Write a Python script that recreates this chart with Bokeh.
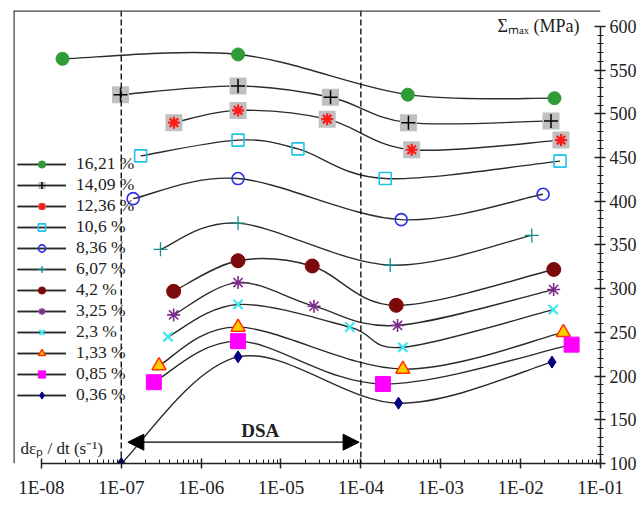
import numpy as np
from bokeh.plotting import figure
from bokeh.models import (Span, Label, Arrow, NormalHead, Legend, LegendItem,
                          FixedTicker)
from bokeh.embed import file_html
from bokeh.resources import INLINE

# ---------------- data ----------------
series_labels = ["16,21 %", "14,09 %", "12,36 %", "10,6 %", "8,36 %", "6,07 %",
                 "4,2 %", "3,25 %", "2,3 %", "1,33 %", "0,85 %", "0,36 %"]

x_1621 = [1.84e-8, 2.9e-6, 3.87e-4, 2.65e-2]
y_1621 = [563, 568, 522, 518]
x_1409 = [9.8e-8, 2.9e-6, 4.17e-5, 3.94e-4, 2.4e-2]
y_1409 = [522, 532, 519, 490, 492]
x_1236 = [4.57e-7, 2.9e-6, 3.79e-5, 4.33e-4, 3.2e-2]
y_1236 = [490, 504, 494, 459, 470]
x_1060 = [1.75e-7, 2.9e-6, 1.63e-5, 2.02e-4, 3.11e-2]
y_1060 = [452, 470, 460, 426, 446]
x_836 = [1.41e-7, 2.9e-6, 3.2e-4, 1.91e-2]
y_836 = [403, 426, 379, 408]
x_607 = [3.1e-7, 2.9e-6, 2.33e-4, 1.38e-2]
y_607 = [345, 375, 327, 361]
x_420 = [4.53e-7, 2.9e-6, 2.46e-5, 2.77e-4, 2.6e-2]
y_420 = [297, 332, 326, 281, 322]
x_325 = [4.53e-7, 2.9e-6, 2.59e-5, 2.88e-4, 2.59e-2]
y_325 = [270, 307, 280, 258, 299]
x_230 = [3.85e-7, 2.9e-6, 7.26e-5, 3.35e-4, 2.56e-2]
y_230 = [245, 282, 256, 233, 276]
x_133 = [2.97e-7, 2.9e-6, 3.35e-4, 3.43e-2]
y_133 = [212, 256, 208, 250]
x_085 = [2.56e-7, 2.9e-6, 1.89e-4, 4.35e-2]
y_085 = [193, 240, 191, 236]
x_036 = [1e-7, 2.9e-6, 2.96e-4, 2.47e-2]
y_036 = [100, 222, 169, 216]

x_tick_values = [1e-8, 1e-7, 1e-6, 1e-5, 1e-4, 1e-3, 1e-2, 1e-1]
x_tick_labels = ["1E-08", "1E-07", "1E-06", "1E-05", "1E-04", "1E-03", "1E-02", "1E-01"]
y_tick_values = [100, 150, 200, 250, 300, 350, 400, 450, 500, 550, 600]

dsa_bounds = [1e-7, 1e-4]

# ---------------- figure ----------------
FONT = "Liberation Serif"
X_START, Y_END = 4.479e-9, 618.3
p = figure(width=639, height=509, x_axis_type="log", x_range=(X_START, 1e-1),
           y_range=(100, Y_END), y_axis_location="right",
           output_backend="svg", toolbar_location=None,
           min_border_left=13, min_border_right=36, min_border_top=10,
           min_border_bottom=46)
p.outline_line_color = None
p.xgrid.visible = False
p.ygrid.visible = False
p.background_fill_color = "white"
p.border_fill_color = "white"

minor_x = [k * 10.0 ** e for e in range(-8, -1) for k in range(2, 10)]
xa = p.xaxis[0]
xa.ticker = FixedTicker(ticks=x_tick_values, minor_ticks=minor_x)
xa.major_label_overrides = {v: s for v, s in zip(x_tick_values, x_tick_labels)}
xa.bounds = (1e-8, 1e-1)
xa.major_tick_in = 5
xa.major_tick_out = 5
xa.minor_tick_in = 4
xa.minor_tick_out = 0
xa.major_label_standoff = 8
xa.major_label_text_font = FONT
xa.major_label_text_font_size = "19px"
xa.major_label_text_color = "#222222"
xa.axis_line_width = 1.5
xa.axis_line_color = "#222222"
xa.major_tick_line_color = "#222222"
xa.minor_tick_line_color = "#222222"
xa.major_tick_line_width = 1.5

ya = p.yaxis[0]
ya.ticker = FixedTicker(ticks=y_tick_values,
                        minor_ticks=list(range(100, 601, 10)))
ya.bounds = (100, 600)
ya.major_tick_in = 6
ya.major_tick_out = 5
ya.minor_tick_in = 3
ya.minor_tick_out = 3
ya.major_label_standoff = 4
ya.major_label_text_font = FONT
ya.major_label_text_font_size = "18px"
ya.major_label_text_color = "#222222"
ya.axis_line_width = 1.5
ya.axis_line_color = "#222222"
ya.major_tick_line_color = "#222222"
ya.minor_tick_line_color = "#222222"
ya.major_tick_line_width = 1.5


def smooth(xs, ys):
    """Catmull-Rom bezier segments in (log x, y) space."""
    lx = np.log10(np.array(xs, dtype=float))
    yy = np.array(ys, dtype=float)
    n = len(lx)
    seg = dict(x0=[], y0=[], x1=[], y1=[], cx0=[], cy0=[], cx1=[], cy1=[])
    for i in range(n - 1):
        im = max(i - 1, 0)
        ip2 = min(i + 2, n - 1)
        c0x = lx[i] + (lx[i + 1] - lx[im]) / 6.0
        c0y = yy[i] + (yy[i + 1] - yy[im]) / 6.0
        c1x = lx[i + 1] - (lx[ip2] - lx[i]) / 6.0
        c1y = yy[i + 1] - (yy[ip2] - yy[i]) / 6.0
        seg["x0"].append(10 ** lx[i]); seg["y0"].append(yy[i])
        seg["x1"].append(10 ** lx[i + 1]); seg["y1"].append(yy[i + 1])
        seg["cx0"].append(10 ** c0x); seg["cy0"].append(c0y)
        seg["cx1"].append(10 ** c1x); seg["cy1"].append(c1y)
    return seg


LINE_COLOR = "#2a2a2a"
GRAY = "#c0c0c0"

specs = [
    (x_1621, y_1621, [("circle", dict(size=13, fill_color="#2f9b35", line_color="#2f9b35"))]),
    (x_1409, y_1409, [("square", dict(size=17, fill_color=GRAY, line_color=None)),
                      ("cross", dict(size=14, line_color="black", line_width=1.5))]),
    (x_1236, y_1236, [("square", dict(size=17, fill_color=GRAY, line_color=None)),
                      ("asterisk", dict(size=12, line_color="#ff1a1a", line_width=2.2))]),
    (x_1060, y_1060, [("square", dict(size=12, fill_color=None, line_color="#1fc3e8", line_width=1.6))]),
    (x_836, y_836, [("circle", dict(size=12, fill_color=None, line_color="#2f2fe6", line_width=1.6))]),
    (x_607, y_607, [("cross", dict(size=14, line_color="#168c8c", line_width=1.3))]),
    (x_420, y_420, [("circle", dict(size=14, fill_color="#7d0a0a", line_color="#7d0a0a"))]),
    (x_325, y_325, [("asterisk", dict(size=13, line_color="#7b2d8b", line_width=1.6))]),
    (x_230, y_230, [("x", dict(size=13, line_color="#40e6f0", line_width=2.2))]),
    (x_133, y_133, [("triangle", dict(size=14, fill_color="#ffcc00", line_color="#ff3300", line_width=1.5))]),
    (x_085, y_085, [("square", dict(size=15, fill_color="#ff00ff", line_color="#ff00ff"))]),
    (x_036, y_036, [("diamond", dict(size=12, fill_color="#000080", line_color="#000080"))]),
]

items = []
for label, (xs, ys, marks) in zip(series_labels, specs):
    seg = smooth(xs, ys)
    curve = p.bezier(source=seg, x0="x0", y0="y0", x1="x1", y1="y1",
                     cx0="cx0", cy0="cy0", cx1="cx1", cy1="cy1",
                     line_color=LINE_COLOR, line_width=1.4)
    leg_line = p.line(x=[float("nan")], y=[float("nan")],
                      line_color=LINE_COLOR, line_width=1.4)
    rends = [curve, leg_line]
    for marker, kw in marks:
        r = p.scatter(x=xs, y=ys, marker=marker, **kw)
        rends.append(r)
    items.append(LegendItem(label=label, renderers=rends))

# dashed DSA bounds
for b in dsa_bounds:
    p.add_layout(Span(location=b, dimension="height", line_color="black",
                      line_width=1.3, line_dash="6 3"))

# chart-area border (left and top)
p.add_layout(Span(location=X_START, dimension="height", line_color="#444444",
                  line_width=2.5))
p.add_layout(Span(location=Y_END, dimension="width", line_color="#444444",
                  line_width=2.5))

legend = Legend(items=items, location=(4, 58), glyph_width=49,
                glyph_height=18, label_height=18, spacing=0, padding=0,
                margin=0, label_standoff=10, label_text_font=FONT,
                label_text_font_size="17.5px", label_text_color="#222222",
                background_fill_alpha=0, border_line_color=None)
p.add_layout(legend)

# DSA arrow and label
p.add_layout(Arrow(start=NormalHead(size=16, fill_color="black", line_color="black"),
                   end=NormalHead(size=16, fill_color="black", line_color="black"),
                   x_start=1.21e-7, y_start=124.4, x_end=9.5e-5, y_end=124.4,
                   line_color="black", line_width=1.3))
p.add_layout(Label(x=5.5e-6, y=137.8, text="DSA", text_font=FONT,
                   text_font_style="bold", text_font_size="19px",
                   text_align="center", text_baseline="middle",
                   text_color="#222222"))

# axis titles
p.add_layout(Label(x=0.0547, y=601, text="Σₘₐₓ (MPa)", text_font=FONT,
                   text_font_size="18px", text_align="right",
                   text_baseline="middle", text_color="#222222"))
p.add_layout(Label(x=5.5e-9, y=117, text="dεₚ / dt (s⁻¹)", text_font=FONT,
                   text_font_size="17px", text_align="left",
                   text_baseline="alphabetic", text_color="#222222"))

open("out.html", "w").write(file_html(p, INLINE))
